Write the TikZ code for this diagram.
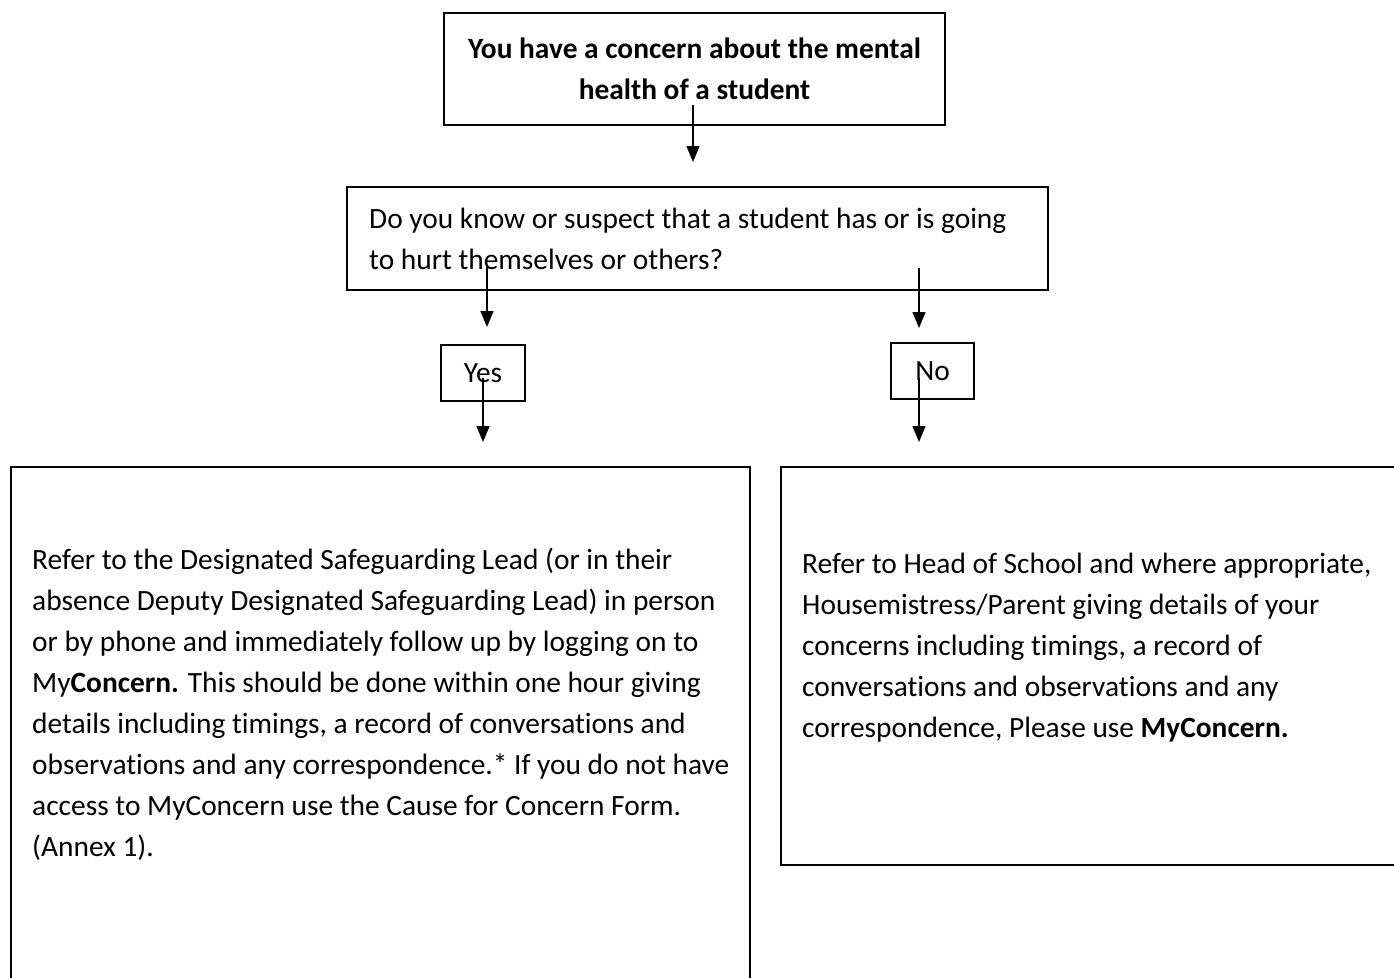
\documentclass[tikz,border=0pt]{standalone}
\usepackage{fontspec}
\setmainfont{Carlito}[Ligatures=NoCommon]
\usetikzlibrary{arrows.meta}

\tikzset{
  box/.style={draw,rectangle,line width=1.6pt,inner sep=0pt},
  txt/.style={font=\fontsize{29.4}{41}\selectfont,align=left,inner sep=0pt},
  arr/.style={line width=1.4pt,-{Triangle[width=13pt,length=16pt]}}
}

\begin{document}
\begin{tikzpicture}[x=1pt,y=-1pt]
  \useasboundingbox (0,0) rectangle (1394,977);
  \clip (0,0) rectangle (1394,977);
  % boxes
  \node[box,minimum width=501pt,minimum height=112pt,font=\fontsize{29.4}{41}\selectfont\bfseries,align=center] (top) at (694.5,69) {You have a concern about the mental\\health of a student};
  \node[box,minimum width=701pt,minimum height=103pt] (ask) at (697.5,238.5) {};
  \node[box,minimum width=84pt,minimum height=56pt,font=\fontsize{29.4}{41}\selectfont] (yes) at (483,373) {Yes};
  \node[box,minimum width=83pt,minimum height=56pt,font=\fontsize{29.4}{41}\selectfont] (no) at (932.5,371) {No};
  \node[box,minimum width=739pt,minimum height=560pt,anchor=north west] (dsl) at (10,466) {};
  \node[box,minimum width=660pt,minimum height=398pt,anchor=north west] (head) at (780,466) {};
  % texts
  \node[txt,anchor=west] (asktxt) at (369,239) {Do you know or suspect that a student has or is going\\to hurt themselves or others?};
  \node[txt,anchor=west] (dsltxt) at (32,704) {Refer to the Designated Safeguarding Lead (or in their\\absence Deputy Designated Safeguarding Lead) in person\\or by phone and immediately follow up by logging on to\\My\textbf{Concern.} This should be done within one hour giving\\details including timings, a record of conversations and\\observations and any correspondence.* If you do not have\\access to MyConcern use the Cause for Concern Form.\\(Annex 1).};
  \node[txt,anchor=west] (headtxt) at (802,648) {Refer to Head of School and where appropriate,\\Housemistress/Parent giving details of your\\concerns including timings, a record of\\conversations and observations and any\\correspondence, Please use \textbf{MyConcern.}};
  % arrow ends
  \coordinate (t1) at (693,105);
  \coordinate (t2) at (693,162);
  \coordinate (y1) at (487,265);
  \coordinate (y2) at (487,327);
  \coordinate (n1) at (919,268);
  \coordinate (n2) at (919,328);
  \coordinate (y3) at (483,378);
  \coordinate (y4) at (483,442);
  \coordinate (n3) at (919,378);
  \coordinate (n4) at (919,442);
  \draw[arr] (t1) -- (t2);
  \draw[arr] (y1) -- (y2);
  \draw[arr] (n1) -- (n2);
  \draw[arr] (y3) -- (y4);
  \draw[arr] (n3) -- (n4);
\end{tikzpicture}
\end{document}
